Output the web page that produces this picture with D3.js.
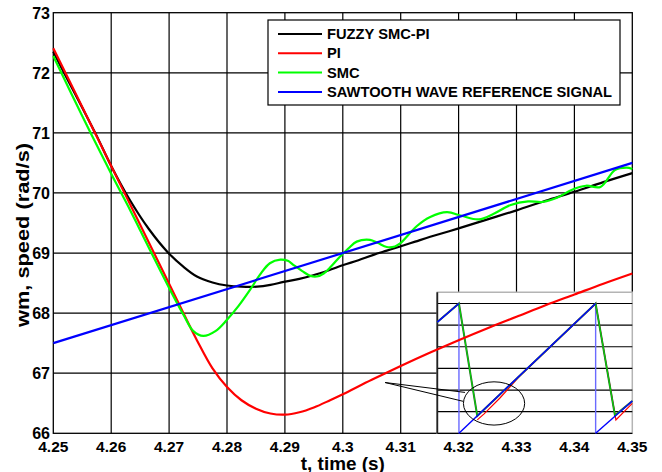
<!DOCTYPE html>
<html>
<head>
<meta charset="utf-8">
<script src="https://cdn.jsdelivr.net/npm/d3@7"></script>
<style>
  html, body { margin: 0; padding: 0; background: #fff; }
  svg { display: block; }
  text { font-family: Arial, "Liberation Sans", sans-serif; font-weight: bold; fill: #000; }
</style>
</head>
<body>
<script>
// ---------- data ----------
const xTicks = [4.25, 4.26, 4.27, 4.28, 4.29, 4.30, 4.31, 4.32, 4.33, 4.34, 4.35];
const xTickLabels = ["4.25", "4.26", "4.27", "4.28", "4.29", "4.3", "4.31", "4.32", "4.33", "4.34", "4.35"];
const yTicks = [66, 67, 68, 69, 70, 71, 72, 73];
const yTickLabels = ["66", "67", "68", "69", "70", "71", "72", "73"];

const seriesNames = ["FUZZY SMC-PI", "PI", "SMC", "SAWTOOTH WAVE REFERENCE SIGNAL"];
const seriesColors = ["#000000", "#ff0000", "#00ff00", "#0000ff"];

// FUZZY SMC-PI
const tFuzzy = [4.25, 4.2525, 4.255, 4.2575, 4.26, 4.2633, 4.2665, 4.2698, 4.2725, 4.2748, 4.2775, 4.28, 4.2825, 4.2852, 4.2875, 4.2898, 4.2925, 4.2949, 4.2975, 4.3001, 4.3027, 4.3053, 4.3076, 4.3099, 4.3125, 4.3151, 4.32, 4.325, 4.33, 4.335, 4.34, 4.345, 4.35];
const vFuzzy = [72.35, 71.88, 71.42, 70.95, 70.45, 69.87, 69.40, 69.01, 68.77, 68.61, 68.51, 68.46, 68.44, 68.44, 68.47, 68.52, 68.57, 68.63, 68.71, 68.80, 68.88, 68.97, 69.04, 69.11, 69.19, 69.27, 69.41, 69.56, 69.71, 69.87, 70.02, 70.18, 70.33];

// PI
const tPI = [4.25, 4.255, 4.26, 4.265, 4.27, 4.2748, 4.2775, 4.28, 4.2825, 4.285, 4.2875, 4.29, 4.2925, 4.295, 4.2978, 4.30, 4.305, 4.31, 4.315, 4.32, 4.325, 4.33, 4.335, 4.34, 4.345, 4.35];
const vPI = [72.41, 71.43, 70.45, 69.47, 68.49, 67.55, 67.08, 66.77, 66.55, 66.41, 66.33, 66.31, 66.35, 66.43, 66.55, 66.65, 66.89, 67.12, 67.34, 67.55, 67.75, 67.94, 68.13, 68.31, 68.49, 68.66];

// SMC
const tSMC = [4.25, 4.255, 4.26, 4.2633, 4.265, 4.27, 4.2725, 4.2742, 4.2759, 4.278, 4.28, 4.282, 4.284, 4.2857, 4.2874, 4.2892, 4.2905, 4.2915, 4.293, 4.2944, 4.2955, 4.2967, 4.298, 4.2995, 4.301, 4.3024, 4.3047, 4.306, 4.3076, 4.309, 4.3099, 4.3128, 4.3151, 4.318, 4.3205, 4.3235, 4.326, 4.329, 4.332, 4.3345, 4.337, 4.3395, 4.342, 4.3445, 4.347, 4.349, 4.35];
const vSMC = [72.28, 71.28, 70.32, 69.71, 69.38, 68.42, 67.97, 67.70, 67.62, 67.70, 67.89, 68.12, 68.39, 68.64, 68.83, 68.89, 68.87, 68.80, 68.70, 68.62, 68.61, 68.66, 68.78, 68.94, 69.08, 69.19, 69.22, 69.17, 69.10, 69.11, 69.16, 69.45, 69.60, 69.68, 69.62, 69.56, 69.65, 69.80, 69.86, 69.85, 69.92, 70.05, 70.12, 70.10, 70.38, 70.42, 70.40];

// Sawtooth reference
const tRef = [4.25, 4.35];
const vRef = [67.5, 70.5];

// Inset (zoomed sawtooth detail), inset units
const insetYTicks = [0, 1, 2, 3, 4, 5, 6];
const insetRefRiseX = [[0, 11.1], [11.1, 81.2], [81.2, 100]];
const insetRefRiseY = [[5.14, 6], [0, 6], [0, 1.49]];
const insetRefDropX = [11.1, 81.2];
const insetSMCX = [0, 11.1, 20.5, 81.2, 91.1, 100];
const insetSMCY = [5.14, 6, 0.80, 6, 0.83, 1.49];
const insetPIX = [20.5, 24, 32, 42, 81.2, 91.6, 100];
const insetPIY = [0.62, 0.90, 1.62, 2.62, 6, 0.62, 1.38];

// ---------- layout ----------
const W = 662, H = 472;
const svg = d3.select("body").append("svg").attr("width", W).attr("height", H);
const x = d3.scaleLinear().domain([4.25, 4.35]).range([53.3, 632.3]);
const y = d3.scaleLinear().domain([66, 73]).range([433.3, 12.7]);
const ix = d3.scaleLinear().domain([0, 100]).range([437.3, 632.3]);
const iy = d3.scaleLinear().domain([0, 6]).range([433.3, 303.5]);

// gridlines
const grid = svg.append("g");
grid.selectAll("line.v").data(xTicks.slice(1, -1)).join("line")
  .attr("x1", d => x(d)).attr("x2", d => x(d)).attr("y1", y(66)).attr("y2", y(73))
  .attr("stroke", "#000").attr("stroke-width", 1.2);
grid.selectAll("line.h").data(yTicks.slice(1, -1)).join("line")
  .attr("x1", x(4.25)).attr("x2", x(4.35)).attr("y1", d => y(d)).attr("y2", d => y(d))
  .attr("stroke", "#000").attr("stroke-width", 1.2);

// frame
svg.append("rect").attr("x", x(4.25)).attr("y", y(73))
  .attr("width", x(4.35) - x(4.25)).attr("height", y(66) - y(73))
  .attr("fill", "none").attr("stroke", "#000").attr("stroke-width", 1.3);

// ---------- inset ----------
const inset = svg.append("g");
inset.append("rect").attr("x", ix(0)).attr("y", iy(6.52))
  .attr("width", ix(100) - ix(0)).attr("height", iy(0) - iy(6.52))
  .attr("fill", "#fff").attr("stroke", "#b4b4b4").attr("stroke-width", 1.5);
inset.selectAll("line.ih").data(insetYTicks).join("line")
  .attr("x1", ix(0)).attr("x2", ix(100)).attr("y1", d => iy(d)).attr("y2", d => iy(d))
  .attr("stroke", "#000").attr("stroke-width", 1.2);
inset.append("line").attr("x1", ix(0)).attr("x2", ix(0)).attr("y1", iy(6.52)).attr("y2", iy(0))
  .attr("stroke", "#222").attr("stroke-width", 1.8);
inset.selectAll("line.drop").data(insetRefDropX).join("line")
  .attr("x1", d => ix(d)).attr("x2", d => ix(d)).attr("y1", iy(6)).attr("y2", iy(0))
  .attr("stroke", "#6a6aff").attr("stroke-width", 1.4);
const iline = d3.line().x(d => ix(d[0])).y(d => iy(d[1]));
inset.append("path").datum(insetPIX.map((v, i) => [v, insetPIY[i]]))
  .attr("d", iline).attr("fill", "none").attr("stroke", "#ff0000").attr("stroke-width", 1.2);
inset.append("path").datum(insetSMCX.map((v, i) => [v, insetSMCY[i]]))
  .attr("d", iline).attr("fill", "none").attr("stroke", "#336633").attr("stroke-width", 2);
inset.append("path").datum(insetSMCX.map((v, i) => [v, insetSMCY[i]]))
  .attr("d", iline).attr("fill", "none").attr("stroke", "#00dd00").attr("stroke-width", 1);
inset.selectAll("path.rise").data(insetRefRiseX.map((xs, i) => xs.map((v, j) => [v, insetRefRiseY[i][j]])))
  .join("path").attr("d", iline).attr("fill", "none").attr("stroke", "#0000ff").attr("stroke-width", 1.4);

// ---------- main curves ----------
const line = d3.line().x(d => x(d[0])).y(d => y(d[1])).curve(d3.curveMonotoneX);
const lineSmooth = d3.line().x(d => x(d[0])).y(d => y(d[1])).curve(d3.curveCatmullRom.alpha(0.5));
const zip = (ts, vs) => ts.map((t, i) => [t, vs[i]]);
const curves = svg.append("g").attr("fill", "none").attr("stroke-width", 2.2);
curves.append("path").datum(zip(tFuzzy, vFuzzy)).attr("d", lineSmooth).attr("stroke", seriesColors[0]);
curves.append("path").datum(zip(tPI, vPI)).attr("d", lineSmooth).attr("stroke", seriesColors[1]);
curves.append("path").datum(zip(tSMC, vSMC)).attr("d", lineSmooth).attr("stroke", seriesColors[2]);
curves.append("path").datum(zip(tRef, vRef)).attr("d", line).attr("stroke", seriesColors[3]);

// ---------- callout ----------
const ann = svg.append("g").attr("fill", "none").attr("stroke", "#000").attr("stroke-width", 1);
ann.append("ellipse").attr("cx", ix(29.1)).attr("cy", iy(1.38))
  .attr("rx", ix(15.7) - ix(0)).attr("ry", iy(0) - iy(1.0));
ann.append("line").attr("x1", x(4.3073)).attr("y1", y(66.845)).attr("x2", ix(14.2)).attr("y2", iy(1.89));
ann.append("line").attr("x1", x(4.3073)).attr("y1", y(66.845)).attr("x2", ix(13.2)).attr("y2", iy(1.48));

// ---------- axes labels ----------
svg.append("g").selectAll("text").data(xTicks).join("text")
  .attr("x", d => x(d)).attr("y", 451.5).attr("text-anchor", "middle")
  .style("font-size", "15.5px").text((d, i) => xTickLabels[i]);
svg.append("g").selectAll("text").data(yTicks).join("text")
  .attr("x", 50).attr("y", d => y(d) + 5.8).attr("text-anchor", "end")
  .style("font-size", "16px").text((d, i) => yTickLabels[i]);
svg.append("text").attr("x", (x(4.25) + x(4.35)) / 2).attr("y", 469.5).attr("text-anchor", "middle")
  .style("font-size", "18px").attr("textLength", 84).attr("lengthAdjust", "spacingAndGlyphs")
  .text("t, time (s)");
svg.append("text").attr("transform", `translate(29,235) rotate(-90)`)
  .attr("text-anchor", "middle").style("font-size", "18px")
  .attr("textLength", 184).attr("lengthAdjust", "spacingAndGlyphs")
  .text("wm, speed (rad/s)");

// ---------- legend ----------
const leg = svg.append("g");
leg.append("rect").attr("x", 268).attr("y", 20).attr("width", 352).attr("height", 85)
  .attr("fill", "#fff").attr("stroke", "#000").attr("stroke-width", 1.2);
const legRows = leg.selectAll("g.row").data(seriesNames).join("g")
  .attr("transform", (d, i) => `translate(0,${34 + i * 19.3})`);
legRows.append("line").attr("x1", 278).attr("x2", 322).attr("y1", 0).attr("y2", 0)
  .attr("stroke", (d, i) => seriesColors[i]).attr("stroke-width", 2);
legRows.append("text").attr("x", 327).attr("y", 5).style("font-size", "14.7px").text(d => d);
</script>
</body>
</html>
